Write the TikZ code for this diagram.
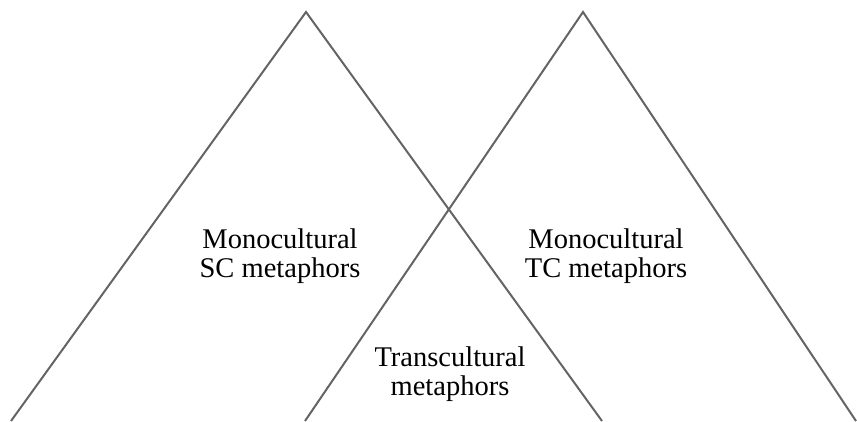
\documentclass[tikz,border=0pt]{standalone}
\usepackage{fontspec}
\setmainfont{Liberation Serif}
\begin{document}
\begin{tikzpicture}[x=1pt,y=-1pt,
  side/.style={draw=edgegray,line width=2pt},
  label/.style={align=center,font=\fontsize{28.5}{29.5}\selectfont,text=black,inner sep=0pt}]
\definecolor{edgegray}{RGB}{100,100,100}
\useasboundingbox (0,0) rectangle (857,421);
% left triangle (open base)
\coordinate (lt) at (306,12);
\coordinate (lbl) at (11,421);
\coordinate (lbr) at (602,421);
% right triangle (open base)
\coordinate (rt) at (583,12);
\coordinate (rbl) at (305,421);
\coordinate (rbr) at (856,421);
\draw[side] (lbl) -- (lt) -- (lbr);
\draw[side] (rbl) -- (rt) -- (rbr);
\node[label] (sc) at (280,256) {Monocultural\\SC metaphors};
\node[label] (tc) at (606,256) {Monocultural\\TC metaphors};
\node[label] (trans) at (450,374) {Transcultural\\metaphors};
\end{tikzpicture}
\end{document}
